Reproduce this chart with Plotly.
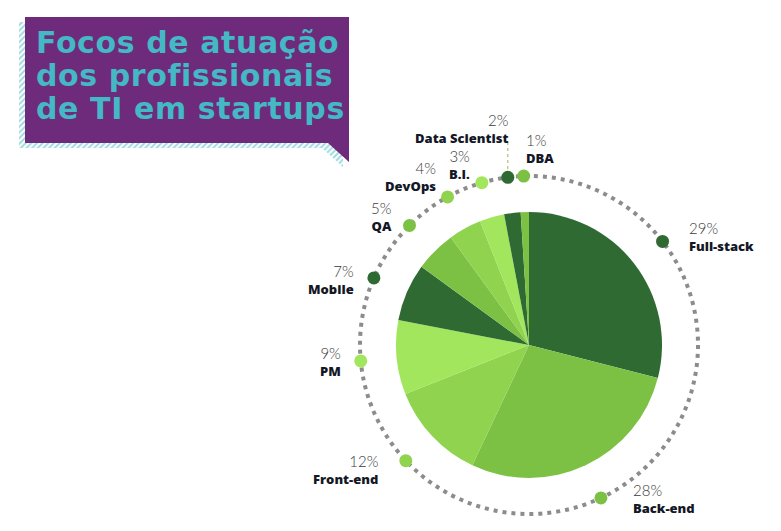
import numpy as np
import plotly.graph_objects as go

# data
roles = ['Full-stack', 'Back-end', 'Front-end', 'PM', 'Mobile', 'QA',
         'DevOps', 'B.I.', 'Data Scientist', 'DBA']
shares = [29, 28, 12, 9, 7, 5, 4, 3, 2, 1]
pct_labels = ['29%', '28%', '12%', '9%', '7%', '5%', '4%', '3%', '2%', '1%']
title_lines = ['Focos de atuação', 'dos profissionais', 'de TI em startups']

# style
DARK, MID, LIGHT, LIGHTEST = '#2f6a33', '#7cc144', '#8fd34f', '#a1e65c'
colors = [DARK, MID, LIGHT, LIGHTEST, DARK, MID, LIGHT, LIGHTEST, DARK, MID]
W, H = 781, 531
OFF = 8                # page body margin, so axes are shifted to keep page px == data px
cx, cy = 529, 345      # pie centre (page px)
r_pie, r_ring = 133, 169

# label anchor (x, centre y of the two lines, side)
label_pos = [(687, 237, 'left'), (631, 499, 'left'),
             (380, 470, 'right'), (343, 362, 'right'),
             (356, 280, 'right'), (394, 217, 'right'),
             (438, 177, 'right'), (472, 165, 'right'),
             (511, 129, 'right'), (524, 149, 'left')]

fig = go.Figure()

# title box: hatched shadow then purple bubble
box_x = [25, 349, 349, 328, 25, 25]
box_y = [17, 17, 162, 143, 143, 17]
fig.add_trace(go.Scatter(x=[v - 6 for v in box_x], y=[v + 5 for v in box_y],
                         fill='toself', mode='lines', line=dict(width=0),
                         fillcolor='white',
                         fillpattern=dict(shape='/', fgcolor='#3fb4bf', bgcolor='white',
                                          size=4, solidity=0.5),
                         hoverinfo='skip', showlegend=False))
fig.add_trace(go.Scatter(x=box_x, y=box_y, fill='toself', mode='lines',
                         line=dict(width=0), fillcolor='#6e2b7b',
                         hoverinfo='skip', showlegend=False))

# pie
fx, fy = cx - OFF, cy - OFF
fig.add_trace(go.Pie(labels=roles, values=shares, sort=False, direction='clockwise',
                     rotation=0, marker=dict(colors=colors, line=dict(width=0)),
                     textinfo='none', hole=0, showlegend=False,
                     domain=dict(x=[(fx - r_pie) / W, (fx + r_pie) / W],
                                 y=[(H - fy - r_pie) / H, (H - fy + r_pie) / H])))

# markers on the ring at the middle of each slice
cum = np.cumsum(shares)
mid = np.radians((cum - np.array(shares) / 2) / 100 * 360)
mx = cx + r_ring * np.sin(mid)
my = cy - r_ring * np.cos(mid)
fig.add_trace(go.Scatter(x=mx, y=my, mode='markers',
                         marker=dict(size=13, color=colors, line=dict(width=0)),
                         hoverinfo='skip', showlegend=False))

shapes = [dict(type='circle', xref='x', yref='y', layer='below',
               x0=cx - r_ring, x1=cx + r_ring, y0=cy - r_ring, y1=cy + r_ring,
               line=dict(color='#8c8c8c', width=4, dash='4px,5px')),
          dict(type='line', xref='x', yref='y', layer='below',
               x0=mx[8], x1=mx[8], y0=142, y1=my[8] - 6,
               line=dict(color='#a9ad55', width=1, dash='dot'))]

annotations = []
for i, line in enumerate(title_lines):
    annotations.append(dict(x=34, y=42 + i * 33, xref='x', yref='y',
                            text=f"<span style='letter-spacing:0.6px'>{line}</span>",
                            showarrow=False, xanchor='left', yanchor='middle',
                            font=dict(family='DejaVu Sans', size=30, color='#44b8c5',
                                      weight='bold')))
for pct, name, (lx, ly, side) in zip(pct_labels, roles, label_pos):
    txt = (f"<span style='font-family:Lato;font-size:15px;font-weight:300;"
           f"color:#3a3a3a'>{pct}</span><br>{name}")
    annotations.append(dict(x=lx, y=ly, xref='x', yref='y', text=txt, showarrow=False,
                            xanchor=side, yanchor='middle', align=side,
                            font=dict(family='Open Sans', size=13, color='#141826',
                                      weight=800)))

fig.update_layout(width=W, height=H, margin=dict(l=0, r=0, t=0, b=0),
                  paper_bgcolor='white', plot_bgcolor='white',
                  xaxis=dict(range=[OFF, W + OFF], visible=False, fixedrange=True),
                  yaxis=dict(range=[H + OFF, OFF], visible=False, fixedrange=True),
                  shapes=shapes, annotations=annotations)
fig.write_html("out.html")
